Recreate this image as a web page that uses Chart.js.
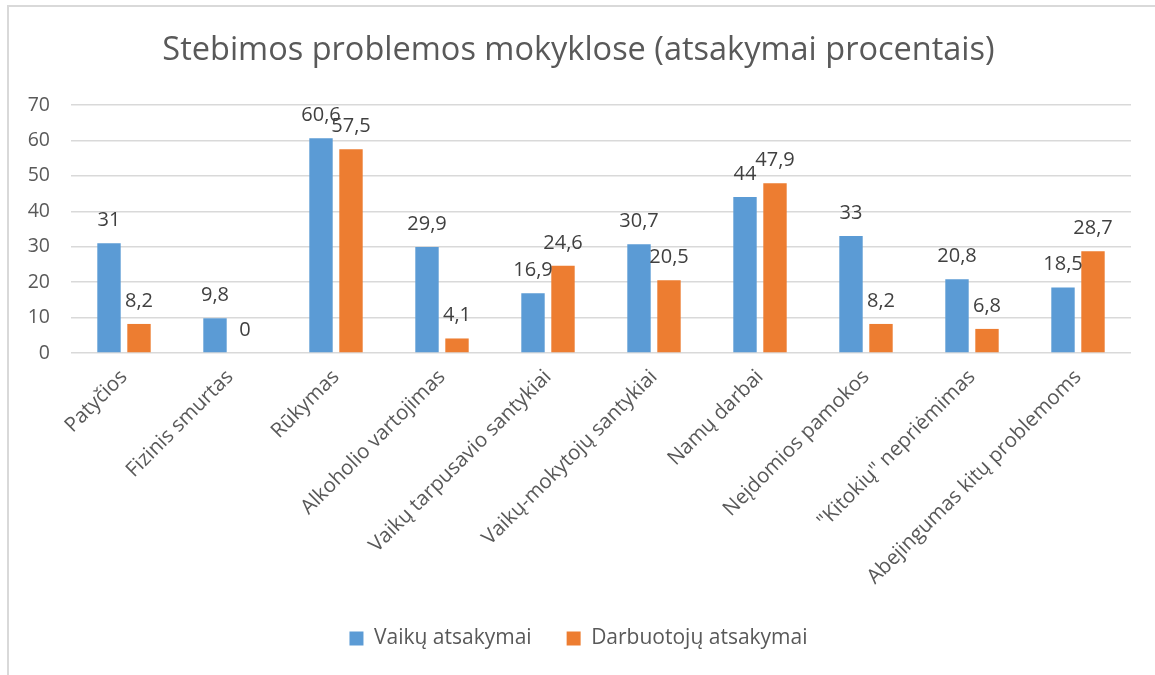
<!DOCTYPE html>
<html>
<head>
<meta charset="utf-8">
<script src="https://cdn.jsdelivr.net/npm/chart.js@4.4.0/dist/chart.umd.min.js"></script>
<style>
  body { margin: 0; background: #fff; overflow: hidden; }
  #frame { position: absolute; left: 7px; top: 5px; width: 1200px; height: 720px;
           border-left: 2px solid #d9d9d9; border-top: 2px solid #d9d9d9; }
  #wrap { position: absolute; left: 0; top: 0; width: 1155px; height: 675px; }
</style>
</head>
<body>
<div id="frame"></div>
<div id="wrap"><canvas id="myChart"></canvas></div>
<script>
var categories = ["Patyčios", "Fizinis smurtas", "Rūkymas", "Alkoholio vartojimas",
  "Vaikų tarpusavio santykiai", "Vaikų-mokytojų santykiai", "Namų darbai",
  "Neįdomios pamokos", "\"Kitokių\" nepriėmimas", "Abejingumas kitų problemoms"];
var vaikuValues = [31, 9.8, 60.6, 29.9, 16.9, 30.7, 44, 33, 20.8, 18.5];
var darbuotojuValues = [8.2, 0, 57.5, 4.1, 24.6, 20.5, 47.9, 8.2, 6.8, 28.7];
var yTicks = [0, 10, 20, 30, 40, 50, 60, 70];

var textColor = "#595959";
var fontName = "'Open Sans', sans-serif";

// draws the value above every bar, decimal comma like the original
var valueLabels = {
  id: "valueLabels",
  afterDatasetsDraw: function(chart) {
    var ctx = chart.ctx;
    ctx.save();
    ctx.font = "20px " + fontName;
    ctx.fillStyle = "#404040";
    ctx.textAlign = "center";
    ctx.textBaseline = "alphabetic";
    chart.data.datasets.forEach(function(ds, i) {
      chart.getDatasetMeta(i).data.forEach(function(bar, j) {
        var txt = String(ds.data[j]).replace(".", ",");
        ctx.fillText(txt, bar.x, bar.y - 17);
      });
    });
    ctx.restore();
  }
};

new Chart("myChart", {
  type: "bar",
  data: {
    labels: categories,
    datasets: [{
      label: "Vaikų atsakymai",
      data: vaikuValues,
      backgroundColor: "#5b9bd5",
      barPercentage: 0.78,
      categoryPercentage: 0.566
    }, {
      label: "Darbuotojų atsakymai",
      data: darbuotojuValues,
      backgroundColor: "#ed7d31",
      barPercentage: 0.78,
      categoryPercentage: 0.566
    }]
  },
  plugins: [valueLabels],
  options: {
    responsive: true,
    maintainAspectRatio: false,
    animation: false,
    layout: { padding: { left: 26, right: 24, top: 0, bottom: 16 } },
    plugins: {
      title: {
        display: true,
        text: "Stebimos problemos mokyklose (atsakymai procentais)",
        color: textColor,
        font: { family: fontName, size: 32.5, weight: "normal" },
        padding: { top: 31, bottom: 35 }
      },
      legend: {
        position: "bottom",
        labels: {
          color: textColor,
          font: { family: fontName, size: 21 },
          boxWidth: 14,
          boxHeight: 14,
          padding: 35
        }
      },
      tooltip: { enabled: false }
    },
    scales: {
      x: {
        grid: { display: false },
        border: { display: false },
        ticks: {
          color: textColor,
          font: { family: fontName, size: 20.5 },
          maxRotation: 45,
          minRotation: 45,
          padding: 4
        },
        afterFit: function(scale) { scale.height = 240; }
      },
      y: {
        min: 0,
        max: 70,
        afterBuildTicks: function(scale) {
          scale.ticks = yTicks.map(function(v) { return { value: v }; });
        },
        grid: { color: "#d9d9d9", lineWidth: 1.5, drawTicks: false },
        border: { display: false },
        ticks: {
          color: textColor,
          font: { family: fontName, size: 19.5 },
          padding: 21
        },
        afterFit: function(scale) { scale.width = 45; }
      }
    }
  }
});
</script>
</body>
</html>
